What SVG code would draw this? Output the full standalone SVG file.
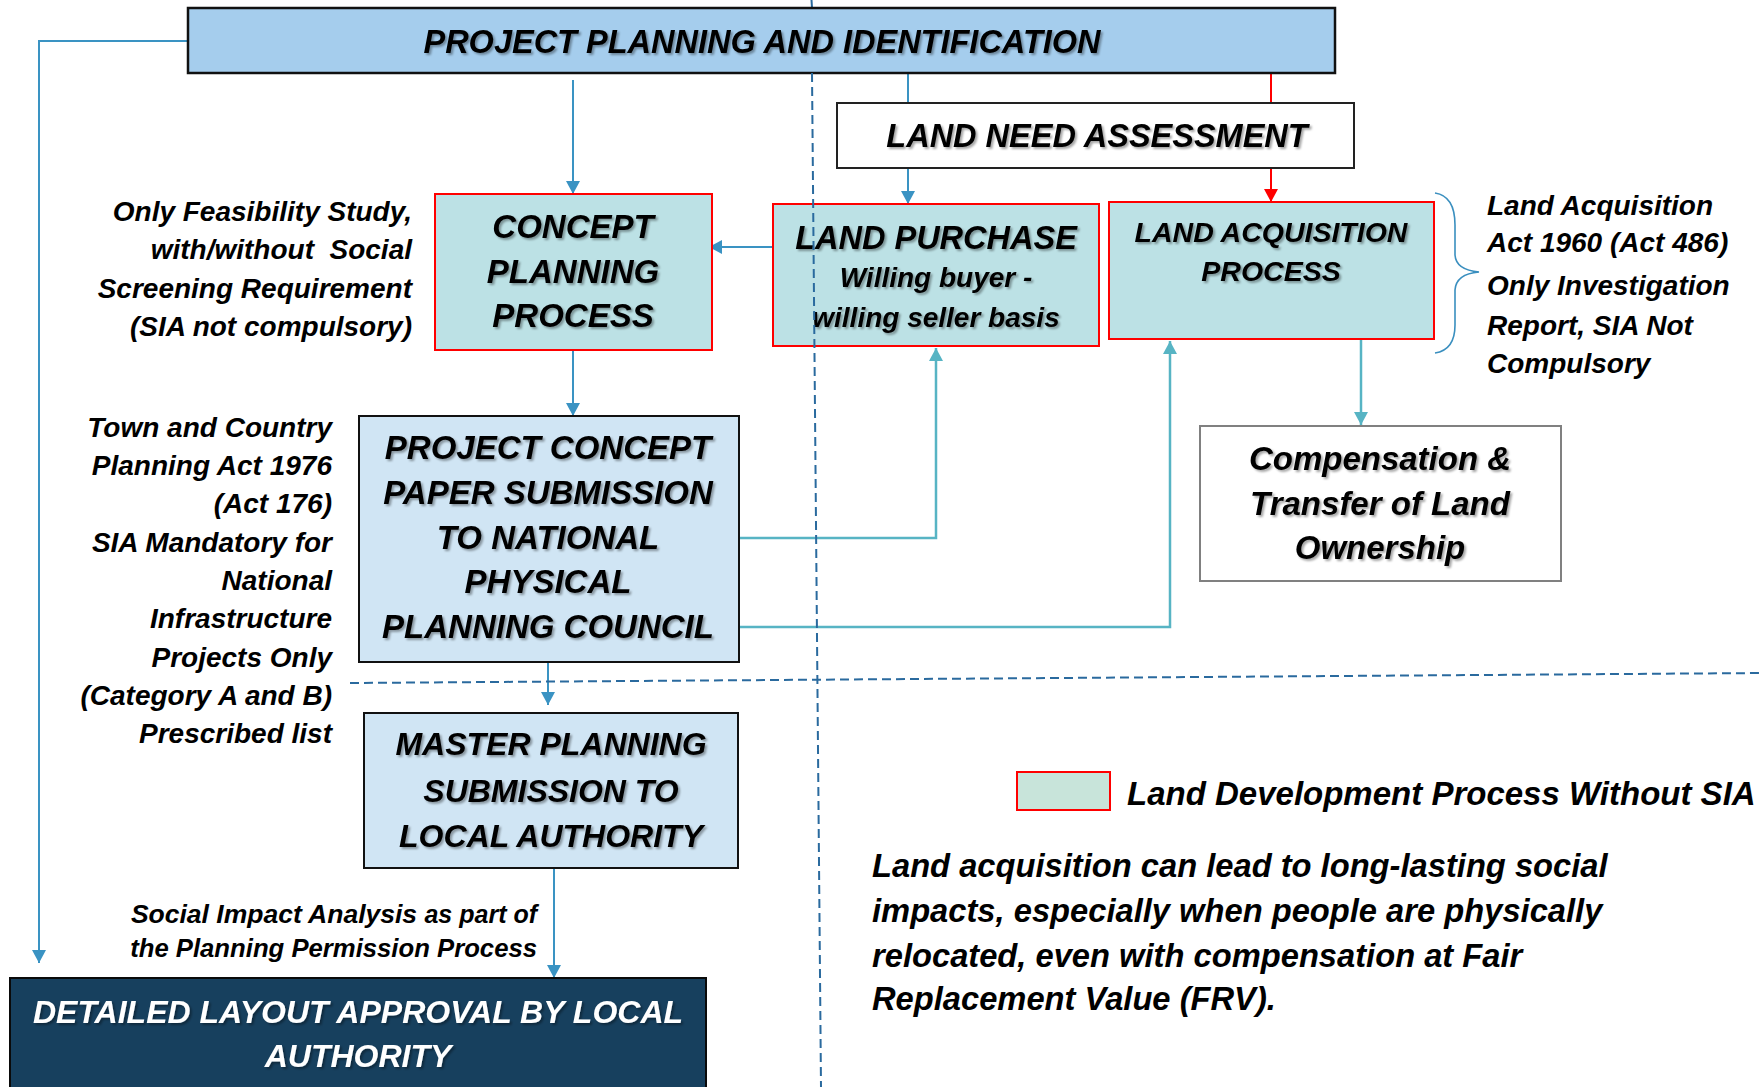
<svg xmlns="http://www.w3.org/2000/svg" width="1763" height="1087" viewBox="0 0 1763 1087">
<defs>
<style>
.t{font-family:"Liberation Sans",Arial,sans-serif;font-weight:700;font-style:italic;fill:#000}
.c{text-anchor:middle}
.r{text-anchor:end}
.sh{filter:url(#sh)}
.teal{fill:#BCE1E5;stroke:#FF0000;stroke-width:2}
.lb{fill:#D0E5F4;stroke:#111;stroke-width:2}
.cb{fill:none;stroke:#3A93C3;stroke-width:2}
.ct{fill:none;stroke:#57B4C4;stroke-width:2.5}
.cr{fill:none;stroke:#FF0000;stroke-width:2}
.dash{fill:none;stroke:#2A6A9E;stroke-width:2;stroke-dasharray:9 5}
</style>
<filter id="sh" x="-5%" y="-30%" width="110%" height="160%">
<feDropShadow dx="2" dy="2" stdDeviation="1.2" flood-color="#000" flood-opacity="0.35"/>
</filter>
<marker id="ab" markerUnits="userSpaceOnUse" markerWidth="16" markerHeight="16" viewBox="0 0 16 16" refX="13" refY="8" orient="auto"><path d="M0,1 L13,8 L0,15 z" fill="#3A93C3"/></marker>
<marker id="at" markerUnits="userSpaceOnUse" markerWidth="16" markerHeight="16" viewBox="0 0 16 16" refX="13" refY="8" orient="auto"><path d="M0,1 L13,8 L0,15 z" fill="#57B4C4"/></marker>
<marker id="ar" markerUnits="userSpaceOnUse" markerWidth="16" markerHeight="16" viewBox="0 0 16 16" refX="13" refY="8" orient="auto"><path d="M0,1 L13,8 L0,15 z" fill="#FF0000"/></marker>
</defs>
<rect width="1763" height="1087" fill="#fff"/>

<g id="connectors">
<path class="dash" d="M811.5,0 L812,8"/>
<path class="cb" d="M188,41 H39 V963" marker-end="url(#ab)"/>
<path class="cb" d="M573,80 V194" marker-end="url(#ab)"/>
<path class="cb" d="M908,73 V103"/>
<path class="cb" d="M908,168 V204" marker-end="url(#ab)"/>
<path class="cr" d="M1271,73 V103"/>
<path class="cr" d="M1271,168 V202" marker-end="url(#ar)"/>
<path class="cb" d="M778,247 H709" stroke-width="3" marker-end="url(#ab)"/>
<path class="cb" d="M573,350 V416" marker-end="url(#ab)"/>
<path class="ct" d="M739,538 H936 V348" marker-end="url(#at)"/>
<path class="ct" d="M727,627 H1170 V341" marker-end="url(#at)"/>
<path class="ct" d="M1361,339 V425" marker-end="url(#at)"/>
<path class="cb" d="M548,662 V705" marker-end="url(#ab)"/>
<path class="cb" d="M554,868 V978" marker-end="url(#ab)"/>
</g>

<g id="project-planning">
<rect x="188" y="8" width="1147" height="65" fill="#A5CDED" stroke="#111" stroke-width="2.5"/>
<text class="t c sh" x="762" y="53" font-size="32.5">PROJECT PLANNING AND IDENTIFICATION</text>
</g>

<g id="land-need">
<rect x="837" y="103" width="517" height="65" fill="#fff" stroke="#222" stroke-width="2"/>
<text class="t c sh" x="1097" y="147" font-size="32.5">LAND NEED ASSESSMENT</text>
</g>

<g id="concept-planning">
<rect class="teal" x="435" y="194" width="277" height="156"/>
<text class="t c sh" x="573" y="238" font-size="33">CONCEPT</text>
<text class="t c sh" x="573" y="283" font-size="33">PLANNING</text>
<text class="t c sh" x="573" y="327" font-size="33">PROCESS</text>
</g>

<g id="land-purchase">
<rect class="teal" x="773" y="204" width="326" height="142"/>
<text class="t c sh" x="936" y="249" font-size="32.5">LAND PURCHASE</text>
<text class="t c sh" x="936" y="287" font-size="28">Willing buyer -</text>
<text class="t c sh" x="936" y="327" font-size="28">willing seller basis</text>
</g>

<g id="land-acquisition">
<rect class="teal" x="1109" y="202" width="325" height="137"/>
<text class="t c sh" x="1271" y="242" font-size="28.5">LAND ACQUISITION</text>
<text class="t c sh" x="1271" y="281" font-size="28.5">PROCESS</text>
</g>

<g id="acquisition-note">
<path d="M1435,193 Q1455,196 1455,225 L1455,255 Q1456,270 1479,272 Q1456,274 1455,290 L1455,325 Q1455,350 1435,353" fill="none" stroke="#3A8FBF" stroke-width="1.6"/>
<text class="t" x="1487" y="215" font-size="28">Land Acquisition</text>
<text class="t" x="1487" y="252" font-size="28">Act 1960 (Act 486)</text>
<text class="t" x="1487" y="295" font-size="28">Only Investigation</text>
<text class="t" x="1487" y="335" font-size="28">Report, SIA Not</text>
<text class="t" x="1487" y="373" font-size="28">Compulsory</text>
</g>

<g id="feasibility-note">
<text class="t r" x="412" y="221" font-size="28">Only Feasibility Study,</text>
<text class="t r" x="412" y="259" font-size="28">with/without&#160; Social</text>
<text class="t r" x="412" y="298" font-size="28">Screening Requirement</text>
<text class="t r" x="412" y="336" font-size="28">(SIA not compulsory)</text>
</g>

<g id="compensation">
<rect x="1200" y="426" width="361" height="155" fill="#fff" stroke="#808080" stroke-width="2"/>
<text class="t c sh" x="1380" y="470" font-size="33">Compensation &amp;</text>
<text class="t c sh" x="1380" y="515" font-size="33">Transfer of Land</text>
<text class="t c sh" x="1380" y="559" font-size="33">Ownership</text>
</g>

<g id="project-concept">
<rect class="lb" x="359" y="416" width="380" height="246"/>
<text class="t c sh" x="548" y="459" font-size="33">PROJECT CONCEPT</text>
<text class="t c sh" x="548" y="504" font-size="33">PAPER SUBMISSION</text>
<text class="t c sh" x="548" y="549" font-size="33">TO NATIONAL</text>
<text class="t c sh" x="548" y="593" font-size="33">PHYSICAL</text>
<text class="t c sh" x="548" y="638" font-size="33">PLANNING COUNCIL</text>
</g>

<g id="act-note">
<text class="t r" x="332" y="437" font-size="28">Town and Country</text>
<text class="t r" x="332" y="475" font-size="28">Planning Act 1976</text>
<text class="t r" x="332" y="513" font-size="28">(Act 176)</text>
<text class="t r" x="332" y="552" font-size="28">SIA Mandatory for</text>
<text class="t r" x="332" y="590" font-size="28">National</text>
<text class="t r" x="332" y="628" font-size="28">Infrastructure</text>
<text class="t r" x="332" y="667" font-size="28">Projects Only</text>
<text class="t r" x="332" y="705" font-size="28">(Category A and B)</text>
<text class="t r" x="332" y="743" font-size="28">Prescribed list</text>
</g>

<g id="master-planning">
<rect class="lb" x="364" y="713" width="374" height="155"/>
<text class="t c sh" x="551" y="755" font-size="32">MASTER PLANNING</text>
<text class="t c sh" x="551" y="802" font-size="32">SUBMISSION TO</text>
<text class="t c sh" x="551" y="847" font-size="32">LOCAL AUTHORITY</text>
</g>

<g id="sia-note">
<text class="t r" x="537" y="923" font-size="26.5">Social Impact Analysis <tspan font-size="25">as part of</tspan></text>
<text class="t r" x="537" y="957" font-size="25.7">the Planning Permission Process</text>
</g>

<g id="detailed-layout">
<rect x="10" y="978" width="696" height="120" fill="#17405E" stroke="#0a0a0a" stroke-width="2"/>
<text class="t c sh" x="358" y="1023" font-size="32" style="fill:#fff">DETAILED LAYOUT APPROVAL BY LOCAL</text>
<text class="t c sh" x="358" y="1067" font-size="32" style="fill:#fff">AUTHORITY</text>
</g>

<g id="dividers">
<path class="dash" d="M812,73 L821,1087"/>
<path class="dash" d="M350,683 L1763,673"/>
</g>

<g id="legend">
<rect x="1017" y="772" width="93" height="38" fill="#C8E4DA" stroke="#FF0000" stroke-width="2"/>
<text class="t" x="1127" y="805" font-size="33">Land Development Process Without SIA</text>
</g>

<g id="summary">
<text class="t" x="872" y="877" font-size="32.7">Land acquisition can lead to long-lasting social</text>
<text class="t" x="872" y="922" font-size="32.7">impacts, especially when people are physically</text>
<text class="t" x="872" y="967" font-size="32.7">relocated, even with compensation at Fair</text>
<text class="t" x="872" y="1010" font-size="32.7">Replacement Value (FRV).</text>
</g>
</svg>
